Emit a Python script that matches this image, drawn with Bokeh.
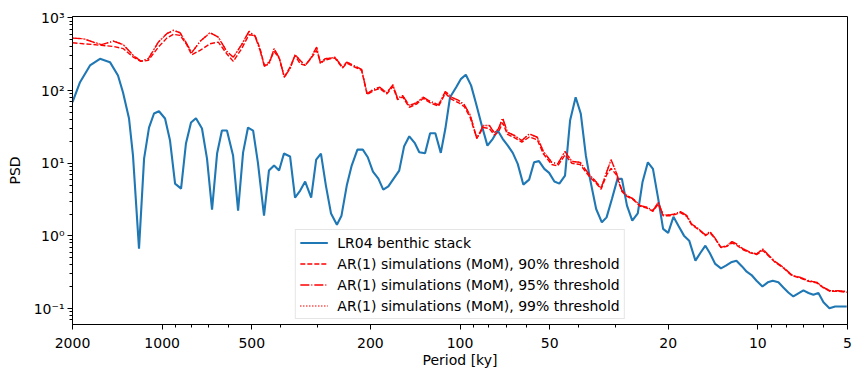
from bokeh.plotting import figure
from bokeh.models import Range1d, FixedTicker, CustomJSTickFormatter, Legend, LegendItem
from bokeh.embed import file_html
from bokeh.resources import INLINE

# ---- data ----
period_lr04 = [2000, 1887, 1747, 1617, 1497, 1407, 1354, 1292, 1253, 1196,
               1150, 1107, 1065, 1025, 978, 941, 905, 864, 832, 800,
               770, 735, 707, 680, 654, 630, 606, 578, 556, 535,
               515, 495, 477, 455, 438, 421, 405, 390, 372, 358,
               344, 331, 316, 304, 293, 282, 271, 259, 250, 240,
               231, 221, 212, 204, 196, 188, 181, 174, 167, 160,
               154, 148, 142, 137, 131, 126, 121, 116, 112, 108,
               103, 99.2, 95.6, 91.8, 88.3, 84.5, 80.9, 77.6, 74.7, 71.9,
               69.1, 66.5, 64.0, 61.3, 58.6, 56.4, 54.3, 52.1, 50.2, 48.2,
               46.4, 44.4, 42.7, 40.9, 39.3, 37.8, 36.6, 34.9, 33.4, 32.2,
               30.9, 29.6, 28.6, 27.5, 26.4, 25.3, 24.4, 23.4, 22.5, 21.6,
               20.8, 20.0, 19.2, 18.5, 17.7, 17.0, 16.2, 15.6, 15.0, 14.5,
               13.9, 13.3, 12.8, 12.3, 11.8, 11.3, 10.9, 10.5, 10.1, 9.65,
               9.26, 8.91, 8.53, 8.21, 7.90, 7.60, 7.31, 7.03, 6.76, 6.51,
               6.26, 6.02, 5.75, 5.50, 5.03]
psd_lr04 = [69.2, 130.5, 221.7, 274, 246, 161, 95, 41.3, 12.8, 0.668,
            11.6, 31, 48.4, 52, 41.3, 20.5, 5.25, 4.48, 18.7, 36.4,
            41.7, 30.1, 11.6, 2.30, 13.6, 28.2, 28.2, 12.8, 2.23, 14.0,
            31, 28.2, 10.2, 1.90, 7.93, 9.30, 7.93, 13.6, 12.4, 3.37,
            4.21, 5.60, 3.37, 11.2, 13.6, 4.93, 2.03, 1.43, 1.90, 4.93,
            9.30, 15.4, 15.4, 12.1, 7.69, 6.16, 4.34, 4.82, 6.16, 7.93,
            17.2, 23.5, 19.1, 14.2, 13.7, 25.9, 25.9, 13.9, 29.8, 81.1,
            111, 145, 165, 118, 65.8, 33.1, 17.5, 21.7, 28.2, 21.7,
            17.5, 13.9, 9.81, 5.09, 5.96, 10.3, 10.7, 8.37, 7.38, 5.60,
            5.25, 6.77, 38.7, 81.1, 47.9, 12.8, 6.10, 2.35, 1.54, 1.80,
            3.23, 6.10, 6.10, 2.61, 1.62, 2.05, 5.47, 10.3, 8.37, 3.23,
            1.25, 1.10, 1.84, 1.39, 1.01, 0.862, 0.457, 0.583, 0.735, 0.583,
            0.412, 0.358, 0.390, 0.433, 0.457, 0.381, 0.322, 0.290, 0.242, 0.202,
            0.230, 0.242, 0.230, 0.196, 0.167, 0.147, 0.162, 0.178, 0.164, 0.155,
            0.164, 0.122, 0.101, 0.107, 0.107]

period_ar1 = [2000, 1840, 1703, 1596, 1459, 1350, 1250, 1180, 1113, 1030,
              965, 917, 871, 827, 796, 746, 691, 648, 607, 577,
              541, 511, 488, 469, 454, 437, 421, 404, 389, 372,
              358, 344, 331, 317, 303, 294, 284, 273, 263, 248,
              240, 228, 214, 205, 195, 186, 176, 168, 162, 156,
              148, 140, 133, 126, 118, 112, 107, 101, 96.7, 92.5,
              87.8, 83.5, 79.7, 76.7, 74.3, 71.9, 69.3, 65.7, 62.0, 58.5,
              55.0, 52.5, 49.2, 47.0, 44.4, 42.1, 39.5, 36.6, 35.2, 33.6,
              32.2, 31.1, 29.9, 28.6, 27.5, 26.2, 24.8, 23.6, 22.5, 21.6,
              20.8, 19.7, 19.0, 18.2, 17.3, 16.7, 15.8, 15.0, 14.5, 13.9,
              13.3, 12.7, 12.2, 11.8, 11.2, 10.6, 10.1, 9.62, 9.22, 8.75,
              8.21, 7.69, 7.21, 6.76, 6.34, 6.02, 5.72, 5.36, 5.03]
psd_q90 = [455, 441, 430, 418, 405, 377, 288, 252, 260, 396,
           527, 593, 574, 428, 311, 357, 441, 464, 321, 252,
           377, 587, 574, 377, 222, 246, 346, 274, 153, 210,
           304, 234, 222, 274, 357, 246, 260, 274, 280, 205,
           238, 215, 190, 88, 100, 107, 90, 114, 75, 82,
           59, 65, 78, 68, 61, 92, 76, 68, 60, 43,
           22, 31, 30, 24.5, 27, 36, 25, 22.5, 19.5, 23,
           21, 13.5, 9.6, 9.2, 13, 10, 9.6, 6.4, 5.5, 4.4,
           6.9, 8.5, 7.0, 4.1, 3.5, 3.15, 2.55, 2.42, 2.18, 2.75,
           1.9, 1.9, 1.97, 2.1, 1.85, 1.43, 1.22, 1.01, 1.11, 0.91,
           0.69, 0.72, 0.80, 0.75, 0.645, 0.585, 0.555, 0.63, 0.535, 0.435,
           0.362, 0.285, 0.264, 0.238, 0.226, 0.193, 0.173, 0.173, 0.168]
psd_q95 = [527, 517, 464, 428, 479, 428, 304, 254, 274, 464,
           606, 673, 625, 441, 332, 475, 625, 544, 346, 288,
           428, 652, 562, 357, 217, 234, 377, 279, 153, 200,
           311, 260, 222, 279, 396, 234, 274, 279, 288, 210,
           246, 222, 195, 90.3, 104, 111, 93.3, 120, 77.1, 85.6,
           62.4, 67.9, 81.1, 70.8, 63.7, 97.2, 81.1, 73.1, 63.7, 46.4,
           22.1, 33.1, 33.1, 26.2, 29.8, 41.7, 26.7, 24.1, 20.5, 25.4,
           22.8, 14.5, 10.3, 9.81, 14.5, 10.6, 10.3, 6.77, 5.78, 4.53,
           7.52, 11.2, 7.52, 4.21, 3.59, 3.23, 2.61, 2.48, 2.23, 2.90,
           1.95, 1.95, 2.01, 2.16, 1.90, 1.46, 1.25, 1.03, 1.15, 0.927,
           0.697, 0.735, 0.835, 0.776, 0.662, 0.594, 0.565, 0.662, 0.547, 0.443,
           0.369, 0.290, 0.269, 0.242, 0.230, 0.196, 0.176, 0.176, 0.171]
# the 99% curve lies on top of the 95% curve in the reference
psd_q99 = [527, 517, 464, 428, 479, 428, 304, 254, 274, 464,
           606, 673, 625, 441, 332, 475, 625, 544, 346, 288,
           428, 652, 562, 357, 217, 234, 377, 279, 153, 200,
           311, 260, 222, 279, 396, 234, 274, 279, 288, 210,
           246, 222, 195, 90.3, 104, 111, 93.3, 120, 77.1, 85.6,
           62.4, 67.9, 81.1, 70.8, 63.7, 97.2, 81.1, 73.1, 63.7, 46.4,
           22.1, 33.1, 33.1, 26.2, 29.8, 41.7, 26.7, 24.1, 20.5, 25.4,
           22.8, 14.5, 10.3, 9.81, 14.5, 10.6, 10.3, 6.77, 5.78, 4.53,
           7.52, 11.2, 7.52, 4.21, 3.59, 3.23, 2.61, 2.48, 2.23, 2.90,
           1.95, 1.95, 2.01, 2.16, 1.90, 1.46, 1.25, 1.03, 1.15, 0.927,
           0.697, 0.735, 0.835, 0.776, 0.662, 0.594, 0.565, 0.662, 0.547, 0.443,
           0.369, 0.290, 0.269, 0.242, 0.230, 0.196, 0.176, 0.176, 0.171]

x_ticks = [2000, 1000, 500, 200, 100, 50, 20, 10, 5]
x_minor = [900, 800, 700, 600, 400, 300, 90, 80, 70, 60, 40, 30, 9, 8, 7, 6]
y_ticks = [0.1, 1, 10, 100, 1000]
y_minor = [k * 10.0 ** e for e in range(-2, 4) for k in range(2, 10)]

labels = ["LR04 benthic stack",
          "AR(1) simulations (MoM), 90% threshold",
          "AR(1) simulations (MoM), 95% threshold",
          "AR(1) simulations (MoM), 99% threshold"]

FONT = "DejaVu Sans"
FS = "14px"

p = figure(frame_width=775, frame_height=308,
           x_axis_type="log", y_axis_type="log",
           x_range=Range1d(2000, 5), y_range=Range1d(0.0605, 1045),
           output_backend="svg", toolbar_location=None,
           min_border_left=72, min_border_right=13,
           min_border_top=16, min_border_bottom=52,
           background_fill_color="white", border_fill_color="white")

p.xgrid.visible = False
p.ygrid.visible = False
p.outline_line_color = "black"
p.outline_line_width = 1
p.outline_line_alpha = 1

r0 = p.line(period_lr04, psd_lr04, line_color="#1f77b4", line_width=2.1)
r1 = p.line(period_ar1, psd_q90, line_color="red", line_width=1.4, line_dash="5 2")
r2 = p.line(period_ar1, psd_q95, line_color="red", line_width=1.4, line_dash="9 2 1 2")
r3 = p.line(period_ar1, psd_q99, line_color="red", line_width=1.4, line_dash="1 2")

p.xaxis.ticker = FixedTicker(ticks=x_ticks, minor_ticks=x_minor)
p.yaxis.ticker = FixedTicker(ticks=y_ticks, minor_ticks=y_minor)
p.xaxis.formatter = CustomJSTickFormatter(code="return String(Math.round(tick));")
p.yaxis.formatter = CustomJSTickFormatter(code="""
const sup = {"-": "\u207b", "0": "\u2070", "1": "\u00b9", "2": "\u00b2", "3": "\u00b3",
             "4": "\u2074", "5": "\u2075", "6": "\u2076", "7": "\u2077", "8": "\u2078", "9": "\u2079"};
const e = Math.round(Math.log10(tick));
return "10" + String(e).split("").map(c => sup[c]).join("");
""")

for ax in (p.xaxis[0], p.yaxis[0]):
    ax.axis_line_color = "black"
    ax.major_tick_line_color = "black"
    ax.minor_tick_line_color = "black"
    ax.major_tick_out = 5
    ax.major_tick_in = 0
    ax.minor_tick_out = 3
    ax.minor_tick_in = 0
    ax.major_label_text_font = FONT
    ax.major_label_text_font_size = FS
    ax.major_label_text_color = "black"
    ax.axis_label_text_font = FONT
    ax.axis_label_text_font_size = FS
    ax.axis_label_text_font_style = "normal"
    ax.axis_label_text_color = "black"

p.xaxis.axis_label = "Period [ky]"
p.yaxis.axis_label = "PSD"
p.xaxis.major_label_standoff = 8
p.xaxis.axis_label_standoff = 1
p.yaxis.major_label_standoff = 3
p.yaxis.axis_label_standoff = 8

legend = Legend(items=[LegendItem(label=labels[0], renderers=[r0]),
                       LegendItem(label=labels[1], renderers=[r1]),
                       LegendItem(label=labels[2], renderers=[r2]),
                       LegendItem(label=labels[3], renderers=[r3])],
                location="bottom_center",
                label_text_font=FONT, label_text_font_size=FS,
                label_text_color="black",
                glyph_width=28, glyph_height=17, label_height=17,
                label_standoff=10, spacing=4, padding=4, margin=5,
                border_line_color="#cccccc", border_line_width=1,
                background_fill_color="white", background_fill_alpha=0.8)
p.add_layout(legend)

open("out.html", "w").write(file_html(p, INLINE))
